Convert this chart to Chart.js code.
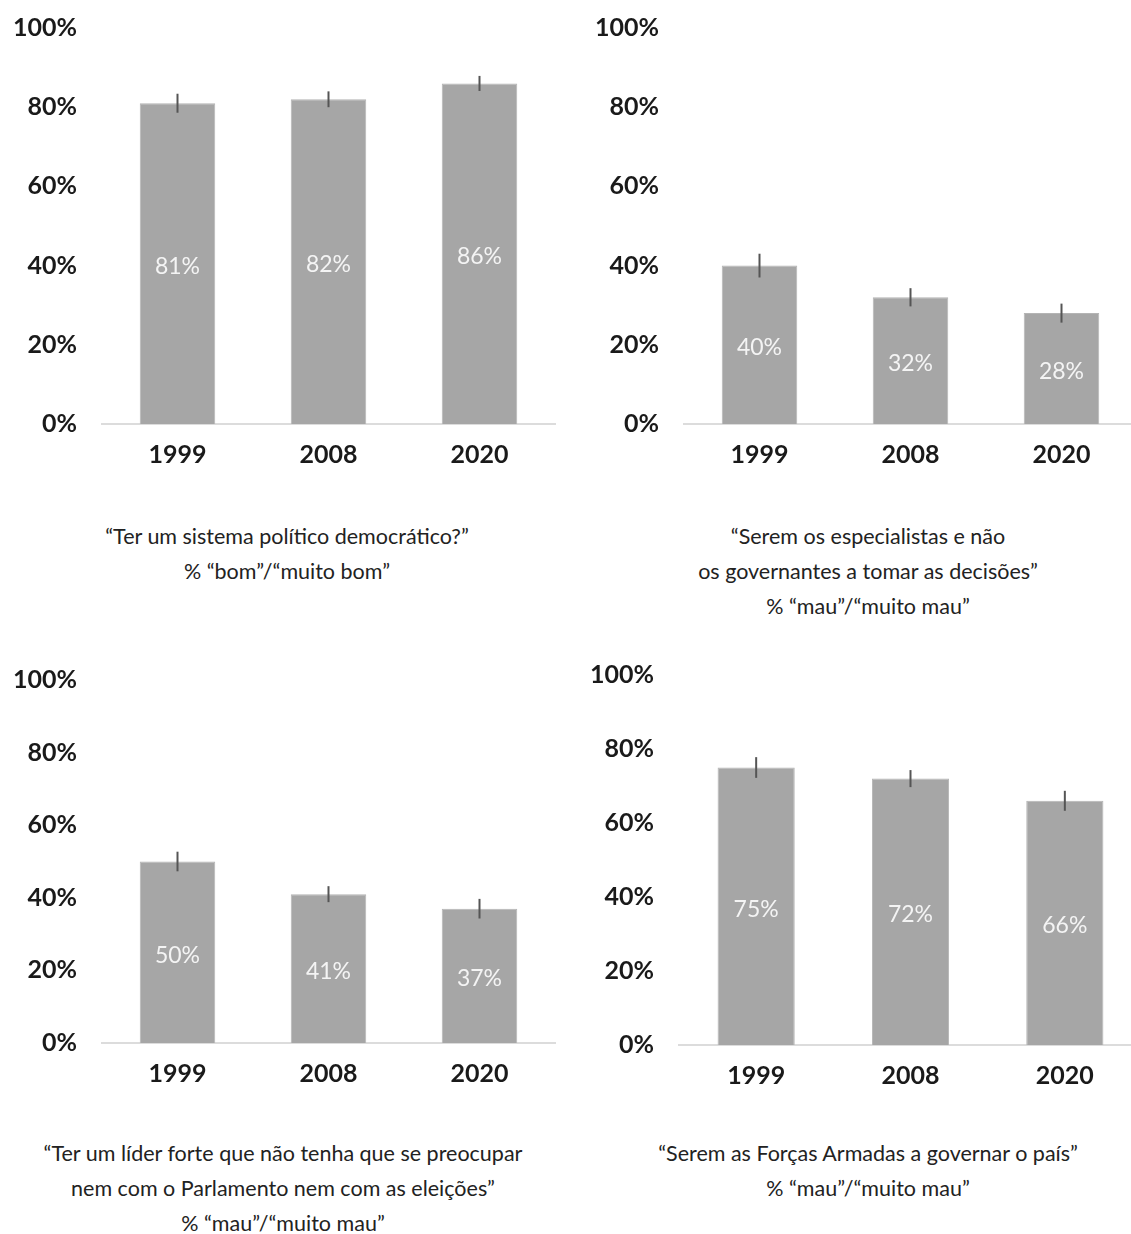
<!DOCTYPE html>
<html>
<head>
<meta charset="utf-8">
<script src="https://cdn.jsdelivr.net/npm/chart.js@4.4.1/dist/chart.umd.min.js"></script>
<style>
  html, body { margin: 0; padding: 0; background: #fff; }
  body { width: 1131px; height: 1234px; position: relative; overflow: hidden; }
  canvas { position: absolute; }
  #c1 { left: 0; top: -12px; }
  #c2 { left: 582px; top: -12px; }
  #c3 { left: 0; top: 640px; }
  #c4 { left: 577px; top: 635px; }
  .caption {
    position: absolute;
    width: 600px;
    text-align: center;
    font-family: Lato, "Open Sans", sans-serif;
    font-size: 21.5px;
    line-height: 35px;
    color: #222;
  }
  #t1 { left: -13px; top: 519px; }
  #t2 { left: 568px; top: 519px; }
  #t3 { left: -17px; top: 1136px; }
  #t4 { left: 568px; top: 1136px; }
</style>
</head>
<body>
<canvas id="c1" width="560" height="492"></canvas>
<canvas id="c2" width="560" height="492"></canvas>
<canvas id="c3" width="560" height="459"></canvas>
<canvas id="c4" width="570" height="466"></canvas>
<div class="caption" id="t1"></div>
<div class="caption" id="t2"></div>
<div class="caption" id="t3"></div>
<div class="caption" id="t4"></div>
<script>
const years = ['1999', '2008', '2020'];
const yTicks = [0, 20, 40, 60, 80, 100];

const democraticValues = [81, 82, 86];
const democraticErrors = [2.4, 2.0, 1.9];
const expertsValues = [40, 32, 28];
const expertsErrors = [3.0, 2.3, 2.4];
const strongLeaderValues = [50, 41, 37];
const strongLeaderErrors = [2.7, 2.2, 2.7];
const armyValues = [75, 72, 66];
const armyErrors = [2.8, 2.3, 2.7];

const democraticCaption = ['\u201CTer um sistema político democrático?\u201D', '% \u201Cbom\u201D/\u201Cmuito bom\u201D'];
const expertsCaption = ['\u201CSerem os especialistas e não', 'os governantes a tomar as decisões\u201D', '% \u201Cmau\u201D/\u201Cmuito mau\u201D'];
const strongLeaderCaption = ['\u201CTer um líder forte que não tenha que se preocupar', 'nem com o Parlamento nem com as eleições\u201D', '% \u201Cmau\u201D/\u201Cmuito mau\u201D'];
const armyCaption = ['\u201CSerem as Forças Armadas a governar o país\u201D', '% \u201Cmau\u201D/\u201Cmuito mau\u201D'];

const tickFont = { family: 'Lato, "Open Sans", sans-serif', size: 25, weight: 'bold' };

// error bars and white value labels inside the bars
const barExtras = {
  id: 'barExtras',
  afterDatasetsDraw(chart) {
    const ctx = chart.ctx;
    const y = chart.scales.y;
    const ds = chart.data.datasets[0];
    const meta = chart.getDatasetMeta(0);
    meta.data.forEach((bar, i) => {
      const v = ds.data[i];
      const e = ds.errors[i];
      ctx.save();
      ctx.strokeStyle = '#555';
      ctx.lineWidth = 2;
      ctx.beginPath();
      ctx.moveTo(bar.x, y.getPixelForValue(v + e));
      ctx.lineTo(bar.x, y.getPixelForValue(v - e));
      ctx.stroke();
      ctx.fillStyle = '#f4f4f4';
      ctx.font = '23px Lato, "Open Sans", sans-serif';
      ctx.textAlign = 'center';
      ctx.textBaseline = 'middle';
      ctx.fillText(v + '%', bar.x, y.getPixelForValue(v / 2) + 3);
      ctx.restore();
    });
  }
};

function makeChart(id, values, errors) {
  new Chart(document.getElementById(id), {
    type: 'bar',
    data: {
      labels: years,
      datasets: [{
        data: values,
        errors: errors,
        backgroundColor: '#a6a6a6',
        borderColor: '#b4b4b4',
        borderWidth: 1,
        barPercentage: 0.5,
        categoryPercentage: 1
      }]
    },
    options: {
      responsive: false,
      animation: false,
      layout: { padding: { top: -4, right: 5, left: 0, bottom: 0 } },
      plugins: { legend: { display: false }, tooltip: { enabled: false } },
      scales: {
        x: {
          grid: { display: false, drawTicks: false },
          border: { display: true, color: '#dcdcdc', width: 2 },
          ticks: { font: tickFont, color: '#1a1a1a', padding: 16 },
          afterFit(axis) { axis.height = 56; }
        },
        y: {
          min: yTicks[0],
          max: yTicks[yTicks.length - 1],
          afterBuildTicks(axis) { axis.ticks = yTicks.map(v => ({ value: v })); },
          grid: { display: false, drawTicks: false },
          border: { display: false },
          ticks: { font: tickFont, color: '#1a1a1a', padding: 25, callback: v => v + '%' },
          afterFit(axis) { axis.width = 102; }
        }
      }
    },
    plugins: [barExtras]
  });
}

function setCaption(id, lines) {
  document.getElementById(id).innerHTML = lines.join('<br>');
}

makeChart('c1', democraticValues, democraticErrors);
makeChart('c2', expertsValues, expertsErrors);
makeChart('c3', strongLeaderValues, strongLeaderErrors);
makeChart('c4', armyValues, armyErrors);

setCaption('t1', democraticCaption);
setCaption('t2', expertsCaption);
setCaption('t3', strongLeaderCaption);
setCaption('t4', armyCaption);
</script>
</body>
</html>
